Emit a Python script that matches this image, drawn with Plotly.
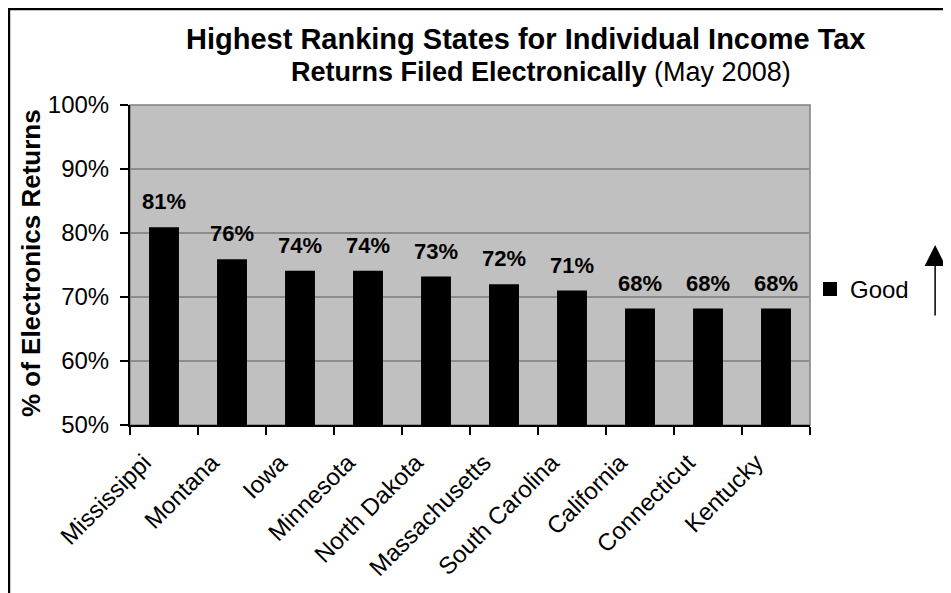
import plotly.graph_objects as go

# data
states = ["Mississippi", "Montana", "Iowa", "Minnesota", "North Dakota",
          "Massachusetts", "South Carolina", "California", "Connecticut", "Kentucky"]
pct_electronic = [80.9, 75.9, 74.1, 74.1, 73.2, 72.0, 71.0, 68.2, 68.2, 68.2]
y_ticks = [50, 60, 70, 80, 90, 100]

FONT = "Liberation Sans, Arial, sans-serif"
PLOT_BG = "#C0C0C0"
GRID = "#8C8C8C"

fig = go.Figure()
fig.add_trace(go.Bar(
    x=states, y=pct_electronic, name="Good", showlegend=False,
    marker=dict(color="black", line=dict(width=0)),
    width=0.44,
    hovertemplate="%{x}: %{y:.0f}%<extra></extra>",
))
# legend-only entry so the swatch can be a bigger square
fig.add_trace(go.Scatter(
    x=[None], y=[None], mode="markers", name="Good",
    marker=dict(symbol="square", size=14, color="black"),
))

# data labels sit well above each bar, Excel style
for s, v in zip(states, pct_electronic):
    fig.add_annotation(x=s, y=v, text=f"<b>{round(v)}%</b>", showarrow=False,
                       yanchor="bottom", yshift=11,
                       font=dict(family=FONT, size=22, color="black"))

# two-line title, second line partly regular weight
fig.add_annotation(
    xref="paper", yref="paper", x=0.581, y=1.206, xanchor="center", yanchor="middle",
    text="<b>Highest Ranking States for Individual Income Tax</b>",
    showarrow=False, font=dict(family=FONT, size=29, color="black"),
)
fig.add_annotation(
    xref="paper", yref="paper", x=0.604, y=1.103, xanchor="center", yanchor="middle",
    text="<b>Returns Filed Electronically</b> (May 2008)",
    showarrow=False, font=dict(family=FONT, size=27, color="black"),
)

# y axis title
fig.add_annotation(
    xref="paper", yref="paper", x=-0.1456, y=0.506, textangle=-90,
    xanchor="center", yanchor="middle",
    text="<b>% of Electronics Returns</b>", showarrow=False,
    font=dict(family=FONT, size=26, color="black"),
)

# upward arrow beside the legend
fig.add_annotation(
    xref="paper", yref="paper", x=1.184, y=0.5625, text="",
    showarrow=True, ax=0, ay=72, arrowhead=2, arrowsize=2.8, arrowwidth=1.5,
    arrowcolor="black",
)

# plot area border (grey) and outer chart frame
fig.add_shape(type="rect", xref="paper", yref="paper", x0=0, x1=1, y0=0, y1=1,
              line=dict(color="#808080", width=1.5), layer="below")
fig.add_shape(type="rect", xref="paper", yref="paper", x0=-0.178, x1=1.5,
              y0=-0.7, y1=1.3, line=dict(color="black", width=2.5))

fig.update_layout(
    width=943, height=585,
    margin=dict(l=122, r=141, t=97, b=168),
    paper_bgcolor="white", plot_bgcolor=PLOT_BG,
    font=dict(family=FONT, size=24, color="black"),
    showlegend=True,
    legend=dict(x=1.0, y=0.424, xanchor="left", yanchor="middle",
                font=dict(family=FONT, size=24, color="black"),
                bgcolor="rgba(0,0,0,0)", itemwidth=30),
    bargap=0.56,
)
fig.update_xaxes(
    tickangle=-45, tickson="boundaries", ticks="outside", ticklen=8,
    tickcolor="black", tickwidth=2, showline=True, linecolor="black",
    linewidth=2, showgrid=False, tickfont=dict(size=24),
    ticklabelshift=-20, ticklabelstandoff=12,
)
fig.update_yaxes(
    range=[50, 100], tickvals=y_ticks, ticktext=[f"{t}%" for t in y_ticks],
    ticks="outside", ticklen=8, tickcolor="black", tickwidth=2,
    showline=True, linecolor="black", linewidth=2, ticklabelstandoff=6,
    gridcolor=GRID, gridwidth=2, zeroline=False, tickfont=dict(size=24),
)

fig.write_html("out.html")
